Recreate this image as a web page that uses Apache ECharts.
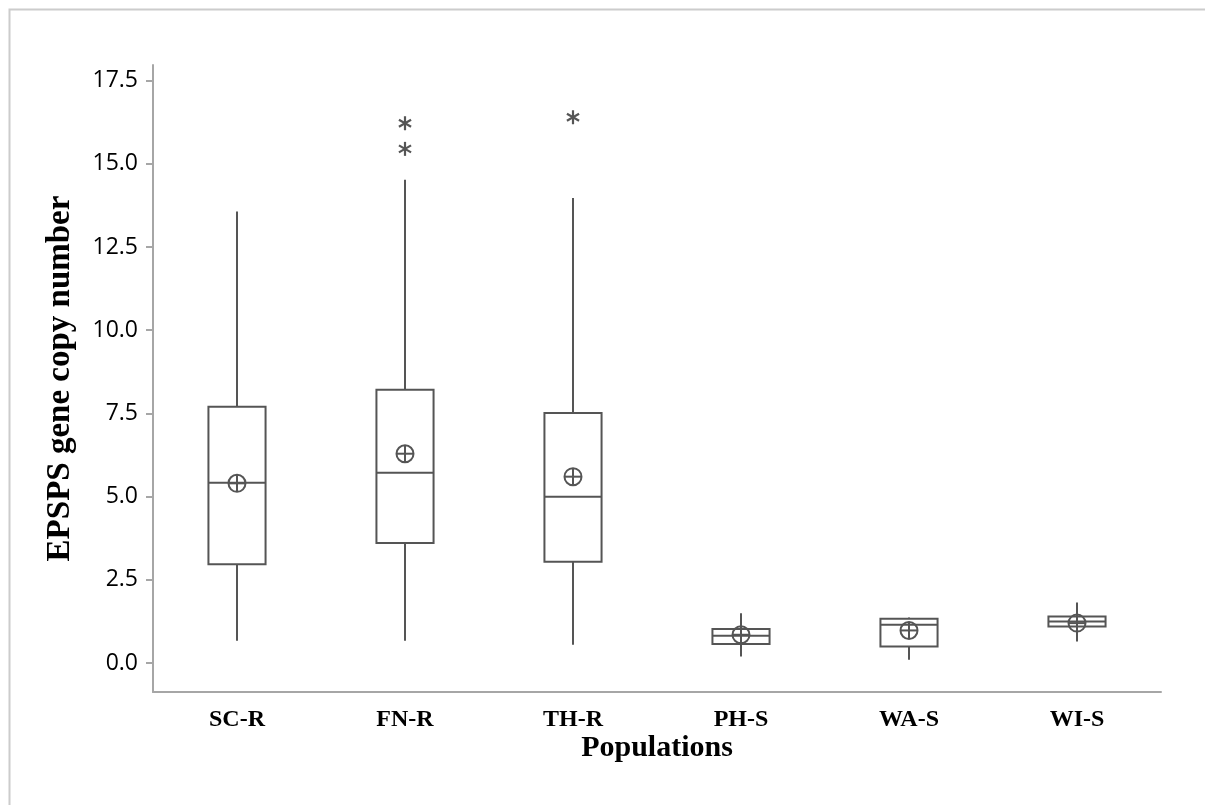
<!DOCTYPE html>
<html>
<head>
<meta charset="utf-8">
<script src="https://cdn.jsdelivr.net/npm/echarts@6/dist/echarts.min.js"></script>
<style>
html,body{margin:0;padding:0;background:#fff;}
#chart{width:1205px;height:805px;}
</style>
</head>
<body>
<div id="chart"></div>
<script>
const categories = ['SC-R', 'FN-R', 'TH-R', 'PH-S', 'WA-S', 'WI-S'];
const whiskerLow  = [0.67, 0.67, 0.55, 0.20, 0.10, 0.65];
const q1          = [2.97, 3.61, 3.04, 0.57, 0.50, 1.10];
const medians     = [5.42, 5.72, 5.00, 0.82, 1.15, 1.25];
const q3          = [7.70, 8.21, 7.51, 1.02, 1.33, 1.40];
const whiskerHigh = [13.57, 14.52, 13.97, 1.50, 1.37, 1.82];
const means       = [5.40, 6.29, 5.60, 0.85, 0.98, 1.20];
const outlierCat  = [1, 1, 2];
const outlierVal  = [16.22, 15.45, 16.40];
const yTicks      = [0, 2.5, 5, 7.5, 10, 12.5, 15, 17.5];

const LINE = '#555555';
const AXIS = '#a6a6a6';

const boxData = categories.map((c, i) => [i, whiskerLow[i], q1[i], medians[i], q3[i], whiskerHigh[i]]);
const meanData = categories.map((c, i) => [i, means[i]]);
const outData = outlierCat.map((c, i) => [c, outlierVal[i]]);

const chart = echarts.init(document.getElementById('chart'), null, {renderer: 'canvas'});

const option = {
  backgroundColor: '#ffffff',
  animation: false,
  graphic: [
    {type: 'rect', left: 7, top: 7, shape: {x: 0, y: 0, width: 1400, height: 1000},
     style: {fill: 'none', stroke: '#cccccc', lineWidth: 2}, silent: true, z: -10}
  ],
  grid: {left: 153, right: 44, top: 65, bottom: 113},
  xAxis: {
    type: 'category',
    data: categories,
    boundaryGap: true,
    name: 'Populations',
    nameLocation: 'middle',
    nameGap: 41,
    nameMoveOverlap: false,
    nameTextStyle: {fontFamily: 'Liberation Serif', fontWeight: 'bold', fontSize: 30, color: '#000'},
    axisLine: {onZero: false, lineStyle: {color: AXIS, width: 2}},
    axisTick: {alignWithLabel: true, length: 7, lineStyle: {color: AXIS, width: 2}},
    axisLabel: {fontFamily: 'Liberation Serif', fontWeight: 'bold', fontSize: 24, color: '#000', margin: 16},
    splitLine: {show: false}
  },
  yAxis: {
    type: 'value',
    min: -0.87,
    max: 17.97,
    name: 'EPSPS gene copy number',
    nameLocation: 'middle',
    nameGap: 76,
    nameRotate: 90,
    nameTextStyle: {fontFamily: 'Liberation Serif', fontWeight: 'bold', fontSize: 33, color: '#000'},
    axisLine: {show: true, onZero: false, lineStyle: {color: AXIS, width: 2}},
    axisTick: {show: true, length: 7, customValues: yTicks, lineStyle: {color: AXIS, width: 2}},
    axisLabel: {customValues: yTicks, formatter: v => Number(v).toFixed(1),
                fontFamily: 'Open Sans', fontWeight: 500, fontSize: 23, color: '#000', margin: 15},
    splitLine: {show: false}
  },
  series: [
    {
      type: 'custom',
      name: 'box',
      data: boxData,
      encode: {x: 0, y: [1, 2, 3, 4, 5]},
      renderItem: function (params, api) {
        const x = api.value(0);
        const pLow = api.coord([x, api.value(1)]);
        const pQ1 = api.coord([x, api.value(2)]);
        const pMed = api.coord([x, api.value(3)]);
        const pQ3 = api.coord([x, api.value(4)]);
        const pHigh = api.coord([x, api.value(5)]);
        const hw = api.size([1, 0])[0] * 0.17;
        const st = {stroke: LINE, lineWidth: 2, fill: 'none'};
        return {
          type: 'group',
          children: [
            {type: 'line', shape: {x1: pLow[0], y1: pLow[1], x2: pQ1[0], y2: pQ1[1]}, style: st},
            {type: 'line', shape: {x1: pQ3[0], y1: pQ3[1], x2: pHigh[0], y2: pHigh[1]}, style: st},
            {type: 'rect', shape: {x: pQ3[0] - hw, y: pQ3[1], width: hw * 2, height: pQ1[1] - pQ3[1]},
             style: {stroke: LINE, lineWidth: 2, fill: '#fff'}},
            {type: 'line', shape: {x1: pMed[0] - hw, y1: pMed[1], x2: pMed[0] + hw, y2: pMed[1]}, style: st}
          ]
        };
      },
      z: 2
    },
    {
      type: 'custom',
      name: 'mean',
      data: meanData,
      encode: {x: 0, y: 1},
      renderItem: function (params, api) {
        const p = api.coord([api.value(0), api.value(1)]);
        const r = 8.5;
        const st = {stroke: LINE, lineWidth: 2, fill: 'none'};
        return {
          type: 'group',
          children: [
            {type: 'circle', shape: {cx: p[0], cy: p[1], r: r}, style: st},
            {type: 'line', shape: {x1: p[0] - r, y1: p[1], x2: p[0] + r, y2: p[1]}, style: st},
            {type: 'line', shape: {x1: p[0], y1: p[1] - r, x2: p[0], y2: p[1] + r}, style: st}
          ]
        };
      },
      z: 3
    },
    {
      type: 'custom',
      name: 'outliers',
      data: outData,
      encode: {x: 0, y: 1},
      renderItem: function (params, api) {
        const p = api.coord([api.value(0), api.value(1)]);
        const r = 7;
        const dx = r * Math.sin(Math.PI / 3), dy = r * Math.cos(Math.PI / 3);
        const st = {stroke: LINE, lineWidth: 2.2};
        return {
          type: 'group',
          children: [
            {type: 'line', shape: {x1: p[0], y1: p[1] - r, x2: p[0], y2: p[1] + r}, style: st},
            {type: 'line', shape: {x1: p[0] - dx, y1: p[1] - dy, x2: p[0] + dx, y2: p[1] + dy}, style: st},
            {type: 'line', shape: {x1: p[0] - dx, y1: p[1] + dy, x2: p[0] + dx, y2: p[1] - dy}, style: st}
          ]
        };
      },
      z: 3
    }
  ]
};
chart.setOption(option);
</script>
</body>
</html>
